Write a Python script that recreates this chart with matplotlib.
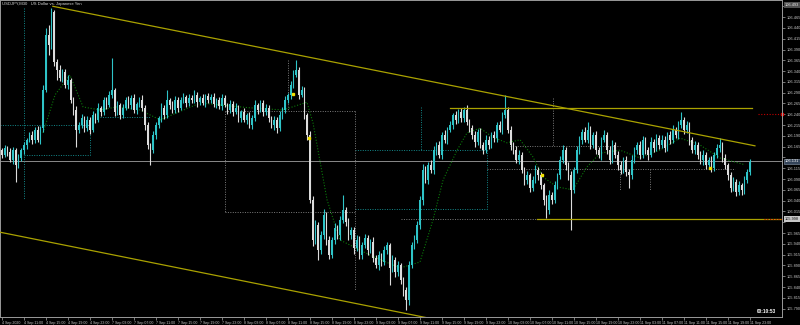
import matplotlib
matplotlib.use('Agg')
import matplotlib.pyplot as plt
import numpy as np

plt.rcParams['font.family'] = ['Liberation Sans', 'DejaVu Sans']

# USDJPY M30, 4 Sep 07:00 .. 11 Sep 23:00 (2020), one value per bar
first_open = 106.157
closes = [
    106.146, 106.162, 106.153, 106.134, 106.157, 106.122, 106.139, 106.157, 106.169, 106.181,
    106.192, 106.181, 106.204, 106.181, 106.208, 106.296, 106.424, 106.400, 106.477, 106.361,
    106.343, 106.324, 106.338, 106.308, 106.319, 106.273, 106.250, 106.204, 106.215, 106.231,
    106.208, 106.227, 106.204, 106.238, 106.227, 106.255, 106.245, 106.273, 106.262, 106.285,
    106.296, 106.245, 106.262, 106.238, 106.255, 106.273, 106.262, 106.278, 106.250, 106.264,
    106.273, 106.255, 106.215, 106.169, 106.157, 106.192, 106.215, 106.231, 106.255, 106.238,
    106.273, 106.262, 106.250, 106.273, 106.255, 106.273, 106.280, 106.266, 106.278, 106.273,
    106.285, 106.268, 106.278, 106.266, 106.282, 106.273, 106.280, 106.264, 106.273, 106.259,
    106.278, 106.262, 106.250, 106.264, 106.245, 106.255, 106.231, 106.245, 106.227, 106.238,
    106.215, 106.231, 106.262, 106.250, 106.266, 106.245, 106.255, 106.231, 106.215, 106.227,
    106.208, 106.238, 106.250, 106.273, 106.285, 106.308, 106.331, 106.343, 106.285, 106.296,
    106.238, 106.192, 106.042, 105.949, 105.984, 105.926, 105.960, 106.007, 105.949, 105.914,
    105.949, 105.977, 105.960, 105.995, 106.018, 105.991, 105.960, 105.972, 105.930, 105.949,
    105.914, 105.937, 105.954, 105.926, 105.944, 105.907, 105.891, 105.914, 105.898, 105.926,
    105.937, 105.884, 105.903, 105.875, 105.891, 105.856, 105.833, 105.810, 105.891, 105.937,
    105.949, 105.984, 106.042, 106.111, 106.088, 106.122, 106.111, 106.157, 106.169, 106.146,
    106.192, 106.181, 106.204, 106.215, 106.238, 106.227, 106.245, 106.231, 106.250, 106.222,
    106.208, 106.192, 106.176, 106.199, 106.169, 106.157, 106.181, 106.169, 106.192, 106.185,
    106.215, 106.204, 106.238, 106.250, 106.204, 106.169, 106.157, 106.134, 106.146, 106.111,
    106.088, 106.099, 106.069, 106.088, 106.111, 106.099, 106.076, 106.042, 106.018, 106.053,
    106.042, 106.076, 106.099, 106.134, 106.157, 106.122, 106.099, 106.065, 106.111, 106.157,
    106.181, 106.199, 106.181, 106.204, 106.169, 106.192, 106.157, 106.146, 106.181, 106.192,
    106.157, 106.134, 106.169, 106.146, 106.122, 106.111, 106.134, 106.106, 106.099, 106.134,
    106.157, 106.169, 106.146, 106.181, 106.157, 106.146, 106.176, 106.162, 106.185, 106.169,
    106.181, 106.162, 106.192, 106.181, 106.204, 106.192, 106.215, 106.227, 106.204, 106.215,
    106.181, 106.157, 106.169, 106.146, 106.134, 106.146, 106.122, 106.134, 106.116, 106.146,
    106.162, 106.169, 106.139, 106.122, 106.099, 106.069, 106.083, 106.060, 106.076, 106.065,
    106.088, 106.106, 106.130,
]
# wick lengths in points (0.001)
wick_up = [
    6, 8, 5, 9, 7, 4, 10, 6, 8, 5, 7, 9, 6, 8, 5, 12, 16, 23, 9, 5,
    7, 10, 6, 8, 12, 5, 7, 9, 6, 10, 5, 8, 7, 9, 6, 11, 5, 8, 7, 10,
    74, 6, 9, 5, 8, 7, 10, 6, 9, 5, 8, 12, 6, 7, 5, 9, 8, 6, 10, 7,
    23, 5, 8, 9, 6, 7, 10, 5, 8, 6, 12, 7, 5, 9, 6, 8, 7, 10, 5, 6,
    9, 7, 5, 8, 6, 10, 7, 5, 9, 6, 8, 7, 11, 5, 8, 6, 9, 7, 5, 8,
    6, 9, 7, 10, 5, 8, 12, 23, 6, 9, 7, 5, 10, 8, 12, 6, 9, 14, 7, 10,
    8, 12, 6, 9, 35, 7, 10, 8, 6, 12, 9, 7, 10, 6, 8, 11, 7, 9, 6, 10,
    8, 6, 12, 7, 9, 5, 8, 6, 10, 7, 12, 9, 8, 14, 10, 7, 12, 9, 6, 10,
    8, 12, 7, 9, 6, 10, 8, 9, 7, 12, 6, 8, 10, 7, 9, 6, 11, 8, 7, 10,
    6, 9, 8, 35, 7, 10, 6, 9, 12, 7, 8, 10, 6, 9, 11, 7, 8, 6, 10, 12,
    7, 9, 6, 10, 12, 8, 7, 9, 6, 10, 8, 7, 12, 18, 9, 6, 10, 8, 7, 11,
    6, 9, 12, 7, 8, 10, 6, 9, 7, 11, 8, 6, 10, 9, 7, 8, 12, 6, 9, 7,
    10, 8, 6, 9, 12, 7, 10, 18, 6, 9, 8, 7, 10, 6, 9, 12, 7, 8, 10, 6,
    9, 16, 7, 10, 6, 8, 12, 7, 9, 6, 10, 8, 7,
]
wick_dn = [
    8, 6, 9, 5, 10, 39, 7, 6, 8, 9, 5, 10, 7, 6, 9, 9, 5, 23, 8, 10,
    23, 8, 10, 6, 9, 7, 12, 39, 8, 6, 10, 7, 9, 5, 8, 6, 10, 7, 9, 6,
    8, 10, 6, 9, 7, 5, 8, 10, 6, 9, 7, 8, 12, 10, 35, 7, 9, 6, 8, 10,
    6, 9, 7, 8, 10, 5, 7, 9, 6, 8, 7, 10, 6, 5, 9, 7, 8, 6, 10, 7,
    8, 6, 9, 7, 10, 5, 8, 9, 6, 10, 7, 8, 6, 9, 5, 8, 7, 10, 6, 12,
    12, 7, 9, 6, 8, 10, 7, 5, 9, 6, 10, 12, 8, 14, 9, 23, 10, 8, 12, 9,
    7, 10, 8, 12, 6, 9, 11, 8, 14, 7, 10, 9, 6, 12, 8, 10, 7, 12, 9, 8,
    10, 39, 8, 12, 9, 10, 14, 23, 12, 8, 10, 7, 9, 12, 8, 10, 7, 9, 12, 8,
    10, 7, 9, 6, 8, 10, 7, 9, 8, 6, 10, 9, 12, 7, 8, 10, 6, 9, 7, 8,
    9, 6, 10, 7, 8, 12, 9, 7, 10, 8, 12, 9, 10, 7, 8, 11, 9, 12, 18, 8,
    10, 7, 9, 8, 6, 10, 12, 93, 8, 7, 9, 10, 6, 8, 9, 7, 10, 8, 12, 6,
    9, 10, 7, 8, 12, 9, 7, 10, 30, 8, 6, 9, 10, 7, 8, 12, 6, 9, 7, 10,
    8, 9, 6, 10, 7, 8, 9, 6, 10, 8, 12, 7, 9, 10, 8, 12, 9, 7, 10, 8,
    7, 9, 10, 8, 12, 9, 7, 10, 8, 12, 9, 8, 6,
]

time_labels = [
    "4 Sep 2020", "4 Sep 11:00", "4 Sep 15:00", "4 Sep 19:00", "4 Sep 23:00",
    "7 Sep 03:00", "7 Sep 07:00", "7 Sep 11:00", "7 Sep 15:00", "7 Sep 19:00", "7 Sep 23:00",
    "8 Sep 03:00", "8 Sep 07:00", "8 Sep 11:00", "8 Sep 15:00", "8 Sep 19:00", "8 Sep 23:00",
    "9 Sep 03:00", "9 Sep 07:00", "9 Sep 11:00", "9 Sep 15:00", "9 Sep 19:00", "9 Sep 23:00",
    "10 Sep 03:00", "10 Sep 07:00", "10 Sep 11:00", "10 Sep 15:00", "10 Sep 19:00", "10 Sep 23:00",
    "11 Sep 03:00", "11 Sep 07:00", "11 Sep 11:00", "11 Sep 15:00", "11 Sep 19:00", "11 Sep 23:00",
]
price_ticks = [round(106.490 - 0.025 * k, 3) for k in range(29)]

# moving average (green dotted): bar index / price
ma_bar = [14.9, 19.3, 24.7, 29.5, 35.6, 41.8, 50.2, 57.5, 72.0, 90.2, 102.2, 110.9, 113.1,
          118.2, 122.9, 133.8, 144.7, 152.0, 156.7, 160.4, 165.5, 169.1, 173.8, 178.5,
          183.6, 188.4, 193.1, 196.7, 201.8, 207.6, 212.7, 217.5, 224.7, 232.0, 239.3,
          246.5, 253.8, 261.1, 270.2]
ma_price = [106.197, 106.285, 106.331, 106.257, 106.250, 106.257, 106.250, 106.227, 106.266,
            106.255, 106.250, 106.268, 106.220, 106.042, 105.949, 105.914, 105.884, 105.898,
            105.995, 106.088, 106.157, 106.197, 106.208, 106.187, 106.174, 106.181, 106.141,
            106.095, 106.072, 106.065, 106.118, 106.150, 106.157, 106.139, 106.157, 106.185,
            106.169, 106.139, 106.123]

# arrows (yellow squares)
arrow_bar = [105.8, 111.6, 196.4, 257.5]
arrow_price = [106.287, 106.185, 106.099, 106.116]

# drawn objects
trend_lines = [((18.5, 106.490), (273.8, 106.167)), ((-0.7, 105.967), (160.0, 105.762))]
level_lines = [((162.9, 106.255), (272.7, 106.255)), ((194.5, 105.998), (290.0, 105.998))]
teal_dotted = [
    ((8.0, 106.486), (8.0, 106.042)), ((-0.7, 106.215), (32.0, 106.215)),
    ((32.0, 106.215), (32.0, 106.146)), ((8.0, 106.146), (32.0, 106.146)),
    ((35.6, 106.234), (53.8, 106.234)), ((128.4, 106.157), (176.4, 106.157)),
    ((152.4, 106.257), (152.4, 106.157)), ((176.4, 106.157), (176.4, 106.021)),
    ((128.4, 106.021), (176.4, 106.021)),
]
gray_dotted = [
    ((81.1, 106.248), (128.4, 106.248)), ((81.1, 106.248), (81.1, 106.014)),
    ((81.1, 106.014), (128.4, 106.014)), ((104.0, 106.366), (104.0, 106.248)),
    ((128.4, 106.248), (128.4, 105.833)), ((176.4, 106.113), (266.5, 106.113)),
    ((184.7, 106.167), (224.7, 106.167)), ((200.4, 106.278), (200.4, 106.167)),
    ((224.7, 106.113), (224.7, 106.065)), ((235.6, 106.113), (235.6, 106.065)),
    ((145.0, 105.998), (194.5, 105.998)),
]
bid = 106.131
tags = [106.493, bid, 105.998]

closes = np.array(closes)
opens = np.r_[first_open, closes[:-1]]
highs = np.maximum(opens, closes) + np.array(wick_up) / 1000
lows = np.minimum(opens, closes) - np.array(wick_dn) / 1000
x = np.arange(len(closes))
up = closes >= opens
cols = np.where(up, '#2ec4c8', '#dcdcdc')

fig = plt.figure(figsize=(8, 3.25), dpi=100, facecolor='black')
ax = fig.add_axes([0.0, 8 / 325, 782 / 800, 317 / 325], facecolor='black')

ax.axhline(bid, color='#8a8a8a', lw=0.7, zorder=1)
for (x0, y0), (x1, y1) in teal_dotted:
    ax.plot([x0, x1], [y0, y1], color='#138a8c', lw=0.7, ls=(0, (1, 1.5)), zorder=1)
for (x0, y0), (x1, y1) in gray_dotted:
    ax.plot([x0, x1], [y0, y1], color='#7c7c7c', lw=0.7, ls=(0, (1, 1.5)), zorder=1)
ax.plot(ma_bar, ma_price, color='#0b7a0b', lw=0.8, ls=(0, (1, 1.6)), zorder=2)

ax.vlines(x, lows, highs, colors=cols, lw=0.8, zorder=3)
body = np.maximum(np.abs(closes - opens), 0.0012)
ax.bar(x, body, bottom=np.minimum(opens, closes), width=0.72, color=cols, linewidth=0, zorder=3)

for (x0, y0), (x1, y1) in trend_lines + level_lines:
    ax.plot([x0, x1], [y0, y1], color='#aaa200', lw=0.9, zorder=4)
ax.plot([275, 290], [106.240, 106.240], color='#c00000', lw=0.8, ls=(0, (1, 1.5)), zorder=4)
ax.plot([277, 290], [105.998, 105.998], color='#c00000', lw=0.8, ls=(0, (1, 1.5)), zorder=4)
ax.plot(arrow_bar, arrow_price, ls='none', marker='s', ms=1.8, color='#f0e000', zorder=5)

ax.set_xlim(-0.727, 283.64)
ax.set_ylim(105.7707, 106.5046)

for s in ax.spines.values():
    s.set_color('#9a9a9a')
    s.set_linewidth(0.7)

ax.yaxis.tick_right()
ax.set_yticks(price_ticks)
ax.set_yticklabels(["" if min(abs(v - t) for t in tags) < 0.0095 else f"{v:.3f}"
                    for v in price_ticks])
ax.tick_params(axis='y', colors='#a8a8a8', labelcolor='#c8c8c8', labelsize=2.8,
               length=2.5, width=0.5, pad=1.0)
ax.set_xticks(np.arange(0, len(closes), 8))
ax.set_xticklabels(time_labels, ha='left')
ax.tick_params(axis='x', colors='#a8a8a8', labelcolor='#c8c8c8', labelsize=2.6,
               length=2, width=0.5, pad=1)

tr = ax.get_yaxis_transform()
tag_kw = dict(transform=tr, fontsize=2.8, va='center', ha='left', clip_on=False)
ax.text(1.004, 106.493, "106.493", color='#e8e8e8',
        bbox=dict(boxstyle='square,pad=0.2', fc='#505050', ec='none'), **tag_kw)
ax.text(1.004, bid, f"{bid:.3f}", color='#ffffff',
        bbox=dict(boxstyle='square,pad=0.2', fc='#34445a', ec='#8898aa', lw=0.4), **tag_kw)
ax.text(1.004, 105.998, "105.998", color='#101010',
        bbox=dict(boxstyle='square,pad=0.2', fc='#c8c8c8', ec='none'), **tag_kw)
ax.plot([1.0], [106.240], marker='s', ms=1.6, color='#e00000', transform=tr, clip_on=False)

ax.text(0.003, 0.994, "USDJPY,M30   US Dollar vs. Japanese Yen", transform=ax.transAxes,
        fontsize=3.0, color='#d8d8d8', va='top', ha='left')
ax.text(0.968, 0.016, "00:10:53", transform=ax.transAxes, fontsize=3.4, weight='bold',
        color='#ffffff', va='center', ha='left')

fig.savefig('out.png', dpi=100, facecolor='black')
